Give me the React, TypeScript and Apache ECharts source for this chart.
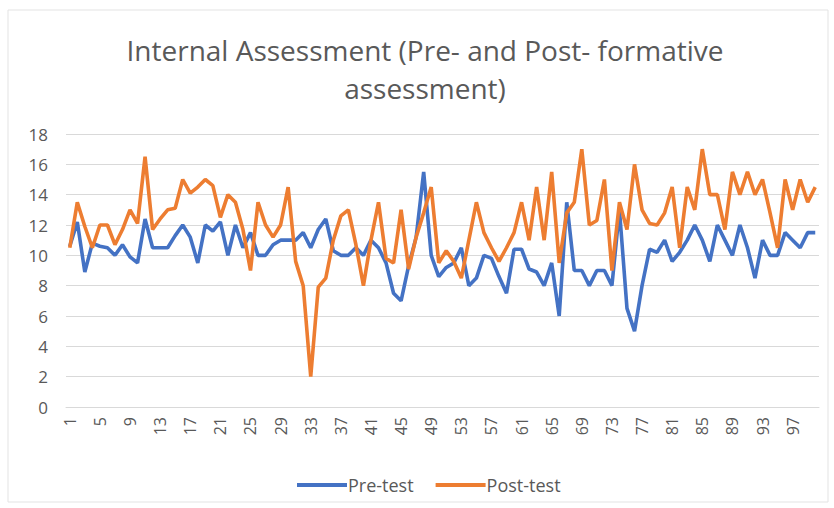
import React, { useEffect, useRef } from "react";
import * as echarts from "echarts";

const categories: string[] = Array.from({ length: 100 }, (_, i) => String(i + 1));

const preTest: number[] = [
  10.6, 12.2, 8.9, 10.8, 10.6, 10.5, 10, 10.7, 9.9, 9.5,
  12.4, 10.5, 10.5, 10.5, 11.3, 12, 11.2, 9.5, 12, 11.6,
  12.2, 10, 12, 10.5, 11.5, 10, 10, 10.7, 11, 11,
  11, 11.5, 10.5, 11.7, 12.4, 10.3, 10, 10, 10.5, 10,
  11, 10.5, 9.5, 7.5, 7, 9.3, 11.2, 15.5, 10, 8.6,
  9.2, 9.5, 10.5, 8, 8.5, 10, 9.8, 8.6, 7.5, 10.4,
  10.4, 9.1, 8.9, 8, 9.5, 6, 13.5, 9, 9, 8,
  9, 9, 8, 13, 6.5, 5, 8, 10.4, 10.2, 11,
  9.6, 10.2, 11, 12, 11, 9.6, 12, 11, 10, 12,
  10.5, 8.5, 11, 10, 10, 11.5, 11, 10.5, 11.5, 11.5,
];

const postTest: number[] = [
  10.5, 13.5, 11.9, 10.5, 12, 12, 10.7, 11.7, 13, 12.1,
  16.5, 11.7, 12.4, 13, 13.1, 15, 14.1, 14.5, 15, 14.6,
  12.5, 14, 13.5, 11.7, 9, 13.5, 12, 11.2, 12, 14.5,
  9.6, 8, 2, 7.9, 8.5, 11, 12.6, 13, 10.7, 8,
  11, 13.5, 9.8, 9.5, 13, 9.1, 11.2, 12.8, 14.5, 9.5,
  10.3, 9.6, 8.5, 11, 13.5, 11.5, 10.5, 9.6, 10.5, 11.5,
  13.5, 11, 14.5, 11, 15.5, 9.5, 12.8, 13.5, 17, 12,
  12.3, 15, 9, 13.5, 11.7, 16, 13, 12.1, 12, 12.8,
  14.5, 10.5, 14.5, 13, 17, 14, 14, 11.7, 15.5, 14,
  15.5, 14, 15, 12.8, 10.5, 15, 13, 15, 13.5, 14.5,
];

const titleLines: string[] = ["Internal Assessment (Pre- and Post- formative", "assessment)"];
const seriesNames: string[] = ["Pre-test", "Post-test"];

const FONT = "'Open Sans', sans-serif";
const TEXT_COLOR = "#595959";
const GRID_COLOR = "#d9d9d9";

export default function App() {
  const ref = useRef<HTMLDivElement>(null);

  useEffect(() => {
    document.body.style.margin = "0";
    if (!ref.current) return;
    const chart = echarts.init(ref.current, undefined, { renderer: "svg" });
    chart.setOption({
      animation: false,
      backgroundColor: "#ffffff",
      graphic: [
        {
          type: "rect",
          shape: { x: 8, y: 10, width: 820, height: 492 },
          style: { fill: "none", stroke: "#e3e3e3", lineWidth: 1 },
          silent: true,
        },
        {
          type: "text",
          x: 425,
          y: 50,
          style: {
            text: titleLines[0],
            font: `28px ${FONT}`,
            fill: TEXT_COLOR,
            textAlign: "center",
            textVerticalAlign: "middle",
          },
        },
        {
          type: "text",
          x: 425,
          y: 88,
          style: {
            text: titleLines[1],
            font: `28px ${FONT}`,
            fill: TEXT_COLOR,
            textAlign: "center",
            textVerticalAlign: "middle",
          },
        },
      ],
      legend: {
        data: seriesNames,
        bottom: 14,
        left: 297,
        padding: 0,
        itemWidth: 50,
        itemHeight: 4,
        itemGap: 22,
        icon: "rect",
        textStyle: { fontFamily: FONT, fontSize: 18, color: TEXT_COLOR, padding: [0, 0, 0, -4] },
      },
      grid: { left: 66, right: 15, top: 134, bottom: 101 },
      xAxis: {
        type: "category",
        data: categories,
        boundaryGap: true,
        axisLine: { show: true, lineStyle: { color: GRID_COLOR, width: 1 } },
        axisTick: { show: false },
        axisLabel: {
          interval: 3,
          rotate: 90,
          margin: 10,
          fontFamily: FONT,
          fontSize: 16,
          color: TEXT_COLOR,
        },
      },
      yAxis: {
        type: "value",
        min: 0,
        max: 18,
        interval: 2,
        axisLine: { show: false },
        axisTick: { show: false },
        splitLine: { lineStyle: { color: GRID_COLOR, width: 1 } },
        axisLabel: { margin: 18, fontFamily: FONT, fontSize: 17, color: TEXT_COLOR },
      },
      series: [
        {
          name: seriesNames[0],
          type: "line",
          data: preTest,
          symbol: "none",
          color: "#4472C4",
          lineStyle: { width: 3.6, color: "#4472C4" },
        },
        {
          name: seriesNames[1],
          type: "line",
          data: postTest,
          symbol: "none",
          color: "#ED7D31",
          lineStyle: { width: 3.6, color: "#ED7D31" },
        },
      ],
    });
    return () => chart.dispose();
  }, []);

  return <div ref={ref} style={{ width: 834, height: 508 }} />;
}
